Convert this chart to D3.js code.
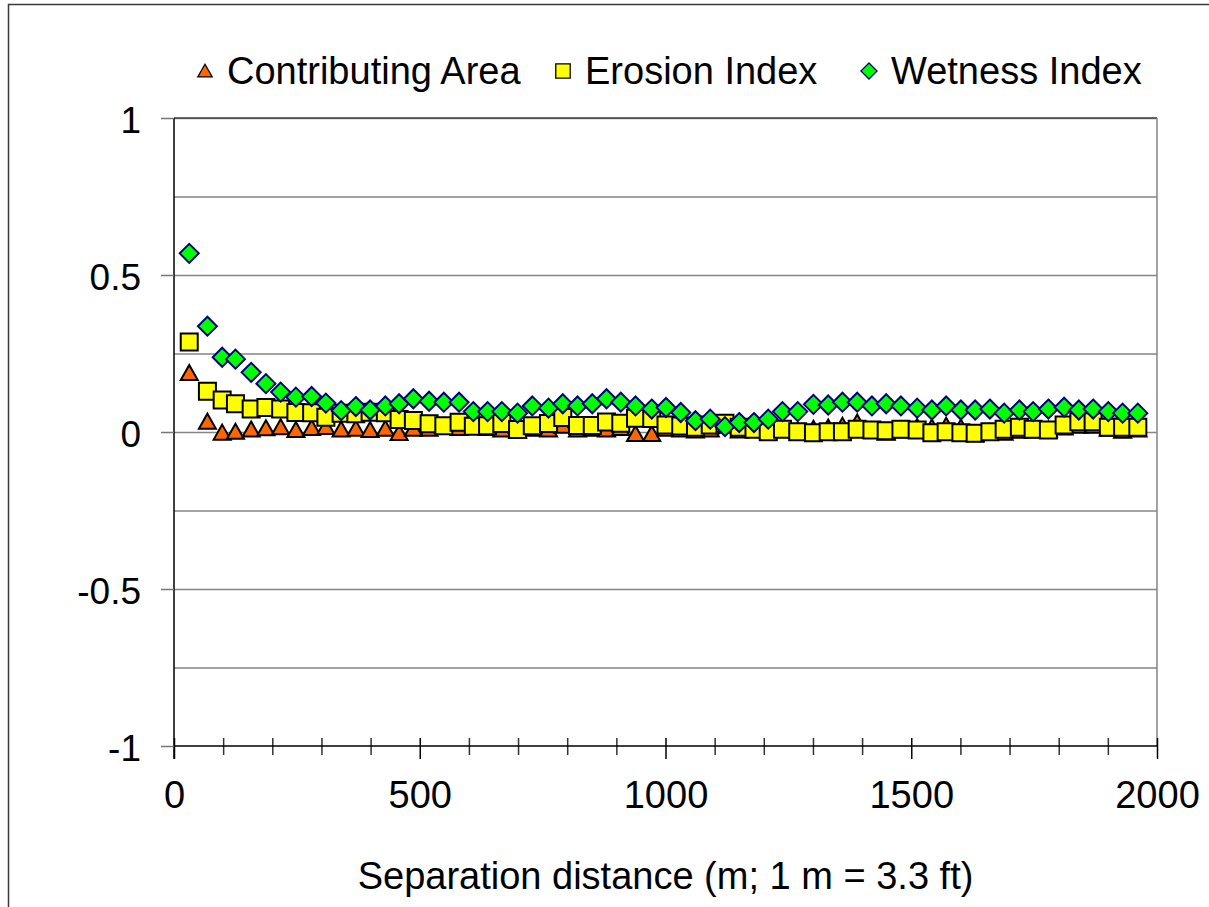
<!DOCTYPE html>
<html>
<head>
<meta charset="utf-8">
<script src="https://cdn.jsdelivr.net/npm/d3@7"></script>
<style>
  body { margin: 0; background: #fff; }
  svg text { font-family: "Liberation Sans", Arial, sans-serif; fill: #000; }
</style>
</head>
<body>
<div id="chart"></div>
<script>
// Separation distance (m) of each lag
var distances = [31, 68, 98, 125, 157, 187, 217, 248, 280, 309, 340, 370, 399, 430, 458, 487, 519, 549, 580, 609, 638,
  667, 699, 729, 762, 791, 821, 851, 880, 909, 939, 972, 1001, 1031, 1061, 1091, 1121, 1150, 1180, 1209, 1238, 1269, 1301,
  1331, 1360, 1390, 1420, 1449, 1479, 1512, 1542, 1571, 1601, 1630, 1660, 1689, 1720, 1748, 1779, 1811, 1841, 1870, 1901, 1930, 1961]

var contributingArea = [0.188, 0.033, -0.002, 0.001, 0.008, 0.012, 0.015, 0.006, 0.013, 0.016, 0.008, 0.010, 0.006, 0.010, -0.003, 0.010, 0.010, 0.018, 0.013, 0.016, 0.013,
  0.008, 0.005, 0.010, 0.008, 0.020, 0.008, 0.010, 0.008, 0.013, -0.006, -0.006, 0.010, 0.008, 0.005, 0.008, 0.020, 0.005, 0.010, 0.005, 0.010, 0.005, 0.010,
  0.014, 0.020, 0.030, 0.005, -0.002, 0.005, 0.016, 0.014, 0.020, 0.014, -0.007, 0.000, -0.002, 0.004, 0.005, 0.008, 0.014, 0.020, 0.020, 0.010, 0.004, 0.008]

var erosionIndex = [0.287, 0.130, 0.102, 0.090, 0.073, 0.078, 0.073, 0.062, 0.061, 0.047, 0.060, 0.058, 0.063, 0.061, 0.040, 0.037, 0.026, 0.020, 0.031, 0.018, 0.020,
  0.027, 0.008, 0.020, 0.027, 0.046, 0.021, 0.021, 0.032, 0.028, 0.044, 0.043, 0.022, 0.019, 0.015, 0.022, 0.028, 0.015, 0.009, 0.001, 0.009, 0.001, -0.002,
  0.001, 0.001, 0.009, 0.006, 0.004, 0.009, 0.006, -0.002, 0.001, -0.002, -0.004, 0.001, 0.009, 0.015, 0.009, 0.006, 0.022, 0.033, 0.033, 0.015, 0.015, 0.015]

var wetnessIndex = [0.569, 0.337, 0.238, 0.232, 0.190, 0.154, 0.127, 0.111, 0.113, 0.092, 0.068, 0.081, 0.070, 0.083, 0.090, 0.106, 0.098, 0.095, 0.095, 0.065, 0.065,
  0.065, 0.060, 0.083, 0.076, 0.090, 0.083, 0.090, 0.106, 0.095, 0.083, 0.073, 0.078, 0.062, 0.036, 0.041, 0.017, 0.030, 0.030, 0.041, 0.065, 0.065, 0.088,
  0.086, 0.095, 0.095, 0.083, 0.090, 0.083, 0.076, 0.070, 0.083, 0.070, 0.070, 0.073, 0.060, 0.070, 0.065, 0.073, 0.079, 0.070, 0.073, 0.065, 0.060, 0.060]

var seriesNames = ["Contributing Area", "Erosion Index", "Wetness Index"]
var xTicks = [0, 500, 1000, 1500, 2000]
var yTicks = [-1, -0.5, 0, 0.5, 1]

var width = 1209
var height = 907
var margin = {top: 118, right: 52, bottom: 161, left: 174}

var svg = d3.select("#chart")
  .append("svg")
  .attr("width", width)
  .attr("height", height)

// outer chart frame (runs past the bottom/right edge)
svg.append("rect")
  .attr("x", 8.5)
  .attr("y", 4.5)
  .attr("width", 1400)
  .attr("height", 1100)
  .attr("fill", "none")
  .attr("stroke", "#3a3a3a")
  .attr("stroke-width", 1.5)

var xScale = d3.scaleLinear()
  .domain([0, 2000])
  .range([margin.left, width - margin.right])

var yScale = d3.scaleLinear()
  .domain([-1, 1])
  .range([height - margin.bottom, margin.top])

// Gridlines every 0.25
var yGrid = d3.axisLeft(yScale)
  .tickValues(d3.range(-0.75, 1.01, 0.25))
  .tickSize(-(xScale.range()[1] - xScale.range()[0]))
  .tickFormat("")

svg.append("g")
  .attr("class", "grid")
  .attr("transform", `translate(${margin.left},0)`)
  .call(yGrid)
  .call(g => g.select(".domain").remove())
  .selectAll("line")
  .style("stroke", "#858585")
  .style("stroke-width", 1.5)

// plot area frame: top and right
svg.append("line")
  .attr("x1", margin.left).attr("x2", xScale(2000))
  .attr("y1", yScale(1)).attr("y2", yScale(1))
  .style("stroke", "#444").style("stroke-width", 1.5)
svg.append("line")
  .attr("x1", xScale(2000)).attr("x2", xScale(2000))
  .attr("y1", yScale(1)).attr("y2", yScale(-1))
  .style("stroke", "#858585").style("stroke-width", 1.5)

// Y axis
var yAxis = d3.axisLeft(yScale)
  .tickValues(yTicks)
  .tickSize(13)
  .tickPadding(20)
  .tickFormat(d => d)

svg.append("g")
  .attr("class", "y-axis")
  .attr("transform", `translate(${margin.left},0)`)
  .call(yAxis)
  .call(g => g.select(".domain").attr("d", `M0,${yScale(1)}V${yScale(-1) + 13}`).style("stroke", "#000").style("stroke-width", 1.5))
  .call(g => g.selectAll(".tick line").style("stroke", "#777").style("stroke-width", 1.5))
  .selectAll("text")
  .style("font-size", "37px")
  .attr("dy", "0.4em")

// X axis: minor ticks every 100, major ticks every 500
var xMinor = d3.axisBottom(xScale)
  .tickValues(d3.range(100, 2000, 100).filter(d => d % 500 !== 0))
  .tickSize(9)
  .tickFormat("")

svg.append("g")
  .attr("transform", `translate(0,${yScale(-1)})`)
  .call(xMinor)
  .call(g => g.select(".domain").remove())
  .selectAll(".tick line")
  .attr("y1", -8)
  .style("stroke", "#333")
  .style("stroke-width", 1.5)

var xAxis = d3.axisBottom(xScale)
  .tickValues(xTicks)
  .tickSize(13)
  .tickPadding(22)
  .tickFormat(d => d)

svg.append("g")
  .attr("class", "x-axis")
  .attr("transform", `translate(0,${yScale(-1)})`)
  .call(xAxis)
  .call(g => g.select(".domain").attr("d", `M${xScale(0)},0H${xScale(2000)}`).style("stroke", "#000").style("stroke-width", 1.5))
  .call(g => g.selectAll(".tick line").attr("y1", -8).style("stroke", "#000").style("stroke-width", 1.5))
  .selectAll("text")
  .style("font-size", "38px")
  .attr("dy", "0.71em")

// axis title
svg.append("text")
  .attr("x", (xScale(0) + xScale(2000)) / 2)
  .attr("y", 889)
  .attr("text-anchor", "middle")
  .style("font-size", "38px")
  .text("Separation distance (m; 1 m = 3.3 ft)")

// marker shapes, centred on the bounding box like Excel markers
var markers = [
  {path: "M0,-8L8.5,7L-8.5,7Z", fill: "#ff6600", stroke: "#000"},
  {path: "M-8.5,-8.5H8.5V8.5H-8.5Z", fill: "#ffff00", stroke: "#000"},
  {path: "M0,-9.5L9.5,0L0,9.5L-9.5,0Z", fill: "#00ff00", stroke: "#000080"}
]

var seriesValues = [contributingArea, erosionIndex, wetnessIndex]

seriesValues.forEach(function(values, i) {
  var pts = distances.map((d, j) => ({x: d, y: values[j]}))
  svg.append("g")
    .attr("class", "series s" + i)
    .selectAll("path")
    .data(pts)
    .enter()
    .append("path")
    .attr("d", markers[i].path)
    .attr("transform", d => `translate(${xScale(d.x)},${yScale(d.y)})`)
    .style("fill", markers[i].fill)
    .style("stroke", markers[i].stroke)
    .style("stroke-width", 2)
})

// Legend
var legendX = [205, 563, 869]
var legend = svg.append("g").attr("class", "legend")
seriesNames.forEach(function(name, i) {
  legend.append("path")
    .attr("d", markers[i].path)
    .attr("transform", `translate(${legendX[i]},71) scale(0.85)`)
    .style("fill", markers[i].fill)
    .style("stroke", markers[i].stroke)
    .style("stroke-width", 1.5)
  legend.append("text")
    .attr("x", legendX[i] + 22)
    .attr("y", 84)
    .style("font-size", "38px")
    .text(name)
})
</script>
</body>
</html>
